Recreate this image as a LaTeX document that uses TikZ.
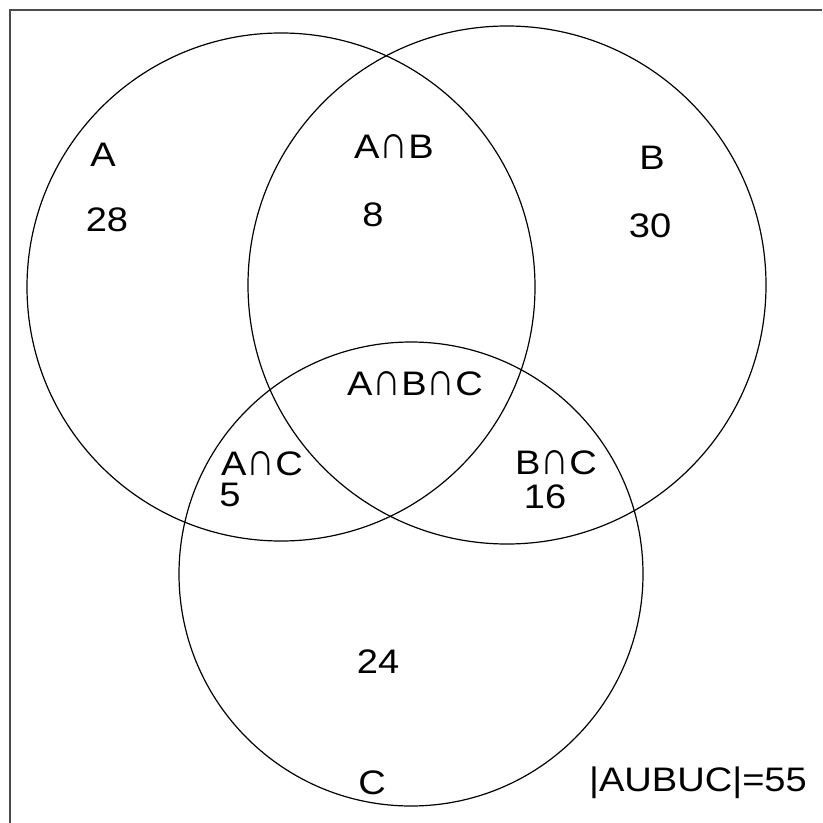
\documentclass[tikz,border=0pt]{standalone}
\usepackage{fontspec}
\setmainfont[FakeStretch=1.12]{Liberation Sans}
\newcommand{\capint}{\scalebox{1.05}[1.4]{∩}}
\begin{document}
\begin{tikzpicture}[x=0.75pt,y=-0.75pt,
  setcircle/.style={draw=black,line width=0.9pt},
  frameline/.style={draw=black!70,line width=1.8pt},
  lbl/.style={inner sep=0pt,font=\fontsize{25.5}{30}\selectfont,text=black}]
\useasboundingbox (0,0) rectangle (822,823);
\fill[white] (0,0) rectangle (822,823);
\coordinate (fTR) at (822,10);
\coordinate (fTL) at (10,10);
\coordinate (fBL) at (10,823);
\draw[frameline] (fTR) -- (fTL) -- (fBL);
\coordinate (cA) at (281,287);
\coordinate (cB) at (507,285);
\coordinate (cC) at (411,574);
\draw[setcircle] (cA) circle[radius=254];
\draw[setcircle] (cB) circle[radius=259];
\draw[setcircle] (cC) circle[radius=232];
\node[lbl] (lA) at (103,155) {A};
\node[lbl] (nA) at (107,220) {28};
\node[lbl] (lAB) at (394,147) {A\capint B};
\node[lbl] (nAB) at (373,215) {8};
\node[lbl] (lB) at (652,158) {B};
\node[lbl] (nB) at (650,226) {30};
\node[lbl] (lABC) at (415,384) {A\capint B\capint C};
\node[lbl] (lAC) at (262,464) {A\capint C};
\node[lbl] (nAC) at (230,495) {5};
\node[lbl] (lBC) at (556,463) {B\capint C};
\node[lbl] (nBC) at (545,497) {16};
\node[lbl] (nC) at (378,662) {24};
\node[lbl] (lC) at (372,783) {C};
\node[lbl] (tot) at (698,783) {|AUBUC|=55};
\end{tikzpicture}
\end{document}
